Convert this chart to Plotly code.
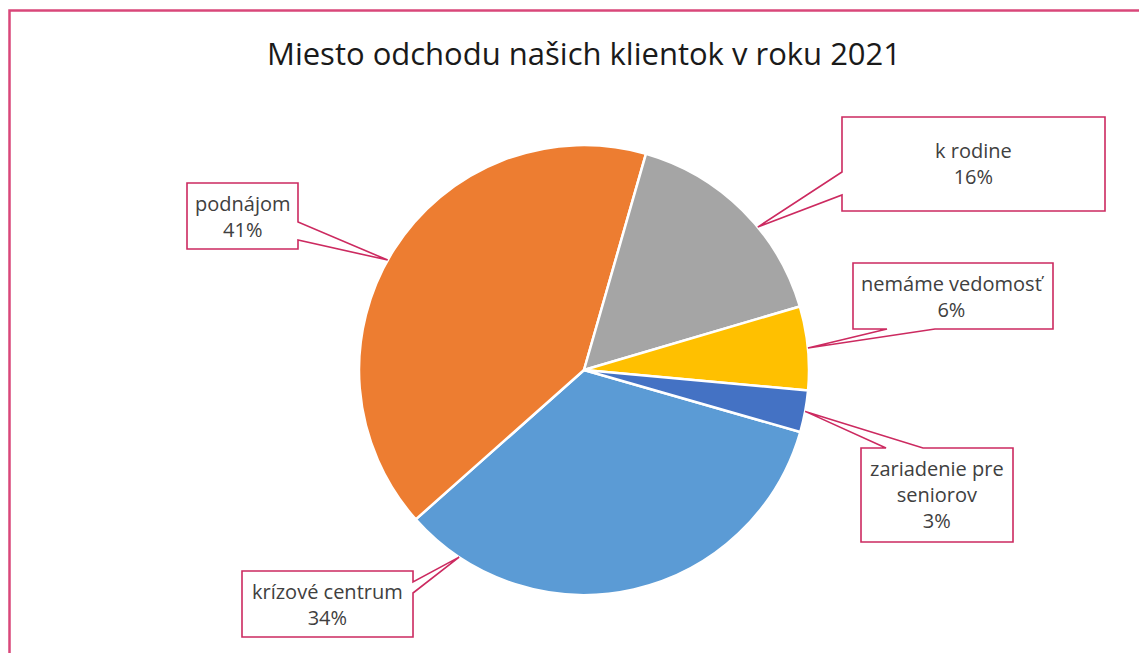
import math
import plotly.graph_objects as go

# ---- data ----
categories = ["krízové centrum", "podnájom", "k rodine", "nemáme vedomosť", "zariadenie pre seniorov"]
values = [34, 41, 16, 6, 3]
label_texts = ["krízové centrum", "podnájom", "k rodine", "nemáme vedomosť", "zariadenie pre<br>seniorov"]
colors = ["#5B9BD5", "#ED7D31", "#A5A5A5", "#FFC000", "#4472C4"]
title_text = "Miesto odchodu našich klientok v roku 2021"

# ---- layout constants (pixels in the final page) ----
W, H = 1147, 653
OFF = 8  # page body margin
CX, CY, R = 584, 370, 225
ROTATION = 106
CALLOUT = "#CC2A60"
FRAME = "#D9477A"

# callout boxes: (x0, y0, x1, y1), pointer edge, base positions along edge, tip fraction inside slice
boxes = [
    dict(box=(242, 571, 413, 637), edge="right", base=(582, 593), frac=0.88),
    dict(box=(187, 183, 298, 249), edge="right", base=(222, 240), frac=0.48),
    dict(box=(842, 117, 1105, 211), edge="left", base=(172, 195), frac=0.60),
    dict(box=(853, 263, 1053, 329), edge="bottom", base=(887, 935), frac=0.50),
    dict(box=(861, 448, 1013, 542), edge="top", base=(886, 923), frac=0.50),
]


def px(x):
    return (x - OFF) / W


def py(y):
    return 1 - (y - OFF) / H


total = sum(values)
fig = go.Figure()
fig.add_trace(go.Pie(
    labels=categories,
    values=values,
    sort=False,
    direction="clockwise",
    rotation=ROTATION,
    textinfo="none",
    marker=dict(colors=colors, line=dict(color="white", width=2.5)),
    domain=dict(x=[px(CX - R), px(CX + R)], y=[py(CY + R), py(CY - R)]),
    showlegend=False,
    hovertemplate="%{label}: %{percent}<extra></extra>",
))

shapes = []
annotations = []
start = ROTATION
for i, (v, b) in enumerate(zip(values, boxes)):
    span = v / total * 360
    ang = math.radians(start + span * b["frac"])
    start += span
    tx = CX + R * math.sin(ang)
    ty = CY - R * math.cos(ang)
    x0, y0, x1, y1 = b["box"]
    a, c = b["base"]
    e = b["edge"]
    if e == "left":
        pts = [(x0, y0), (x1, y0), (x1, y1), (x0, y1), (x0, c), (tx, ty), (x0, a)]
    elif e == "right":
        pts = [(x0, y0), (x1, y0), (x1, a), (tx, ty), (x1, c), (x1, y1), (x0, y1)]
    elif e == "top":
        pts = [(x0, y0), (a, y0), (tx, ty), (c, y0), (x1, y0), (x1, y1), (x0, y1)]
    else:
        pts = [(x0, y0), (x1, y0), (x1, y1), (c, y1), (tx, ty), (a, y1), (x0, y1)]
    path = "M " + " L ".join(f"{px(x):.5f},{py(y):.5f}" for x, y in pts) + " Z"
    shapes.append(dict(type="path", xref="paper", yref="paper", path=path,
                       fillcolor="white", line=dict(color=CALLOUT, width=1.6), layer="above"))
    pct = round(v / total * 100)
    annotations.append(dict(
        xref="paper", yref="paper", x=px((x0 + x1) / 2), y=py((y0 + y1) / 2),
        xanchor="center", yanchor="middle", showarrow=False, align="center",
        text=f"{label_texts[i]}<br>{pct}%",
        font=dict(family="Open Sans", size=20, color="#404040"),
    ))

# outer frame (top and left edges visible)
shapes.append(dict(type="path", xref="paper", yref="paper",
                   path=f"M {px(9.5)},{py(H + 20)} L {px(9.5)},{py(10.5)} L {px(W + 20)},{py(10.5)}",
                   line=dict(color=FRAME, width=2.5)))

annotations.append(dict(
    xref="paper", yref="paper", x=px(584), y=py(53), xanchor="center", yanchor="middle",
    showarrow=False, text=title_text,
    font=dict(family="Open Sans", size=31, color="#1a1a1a"),
))

fig.update_layout(
    width=W, height=H,
    margin=dict(l=0, r=0, t=0, b=0),
    paper_bgcolor="white", plot_bgcolor="white",
    shapes=shapes, annotations=annotations,
)
fig.write_html("out.html")
